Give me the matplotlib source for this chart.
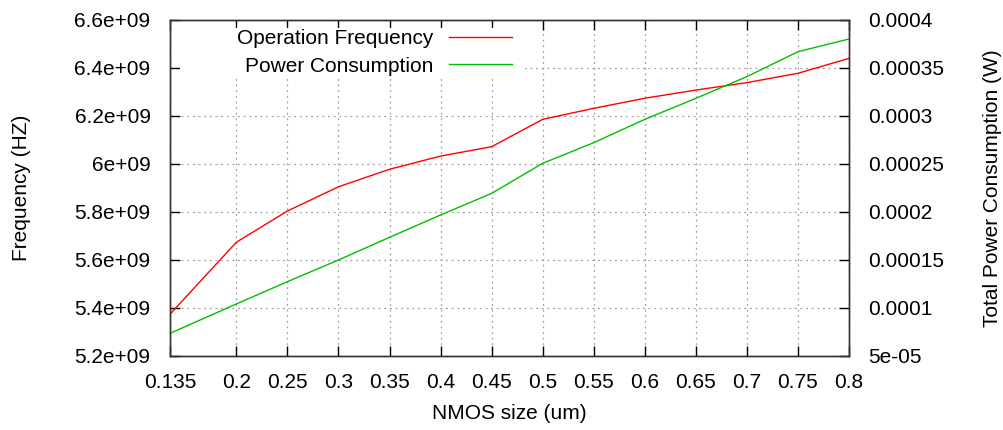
import numpy as np
import matplotlib.pyplot as plt
from matplotlib.patches import Rectangle

nmos_size = [0.135, 0.2, 0.25, 0.3, 0.35, 0.4, 0.45, 0.5, 0.55, 0.6, 0.65, 0.7, 0.75, 0.8]
freq = [5.374e9, 5.674e9, 5.804e9, 5.905e9, 5.978e9, 6.033e9, 6.072e9, 6.186e9,
        6.232e9, 6.274e9, 6.308e9, 6.339e9, 6.378e9, 6.440e9]
power = [7.36e-5, 1.042e-4, 1.274e-4, 1.50e-4, 1.736e-4, 1.969e-4, 2.194e-4, 2.507e-4,
         2.722e-4, 2.965e-4, 3.184e-4, 3.41e-4, 3.67e-4, 3.802e-4]

freq_ticks = [5.2e9, 5.4e9, 5.6e9, 5.8e9, 6.0e9, 6.2e9, 6.4e9, 6.6e9]
freq_labels = ['5.2e+09', '5.4e+09', '5.6e+09', '5.8e+09', '6e+09', '6.2e+09', '6.4e+09', '6.6e+09']
power_ticks = [5e-5, 1e-4, 1.5e-4, 2e-4, 2.5e-4, 3e-4, 3.5e-4, 4e-4]
power_labels = ['5e-05', '0.0001', '0.00015', '0.0002', '0.00025', '0.0003', '0.00035', '0.0004']
x_labels = ['0.135', '0.2', '0.25', '0.3', '0.35', '0.4', '0.45', '0.5', '0.55', '0.6',
            '0.65', '0.7', '0.75', '0.8']

plt.rcParams['font.family'] = ['Liberation Sans', 'DejaVu Sans']
plt.rcParams['font.size'] = 15

fig, ax = plt.subplots(figsize=(10.04, 4.3), dpi=100)
fig.subplots_adjust(left=0.1693, right=0.8456, top=0.9535, bottom=0.1721)
ax2 = ax.twinx()

l1, = ax.plot(nmos_size, freq, color='#ff0000', lw=1.0, label='Operation Frequency')
l2, = ax2.plot(nmos_size, power, color='#00c000', lw=1.0, label='Power Consumption')

ax.set_xlim(0.135, 0.8)
ax.set_ylim(5.2e9, 6.6e9)
ax2.set_ylim(5e-5, 4e-4)

ax.set_xticks(nmos_size)
ax.set_xticklabels(x_labels)
ax.set_yticks(freq_ticks)
ax.set_yticklabels(freq_labels)
ax2.set_yticks(power_ticks)
ax2.set_yticklabels(power_labels)

ax.grid(True, color='#a0a0a0', linestyle=(0, (1.5, 3)), lw=0.9)
ax.tick_params(axis='x', direction='in', length=7, width=1, top=True, pad=12)
ax.tick_params(axis='y', direction='in', length=7, width=1, pad=14)
ax2.tick_params(axis='y', direction='in', length=7, width=1, pad=14)
for a in (ax, ax2):
    for s in a.spines.values():
        s.set_linewidth(1.0)
        s.set_color('#333333')

ax.set_xlabel('NMOS size (um)', va='center')
ax.set_ylabel('Frequency (HZ)', va='center')
ax2.set_ylabel('Total Power Consumption (W)', va='center')
ax.xaxis.set_label_coords(0.5, -0.17)
ax.yaxis.set_label_coords(-0.218, 0.5)
ax2.yaxis.set_label_coords(1.212, 0.5)

# gnuplot key: white box over the grid, no border (top ticks stay visible)
ax2.add_patch(Rectangle((0.0147, 0.830), 0.5067, 0.146, transform=ax2.transAxes,
                        facecolor='white', edgecolor='none', zorder=0.5))
leg = ax2.legend([l1, l2], ['Operation Frequency', 'Power Consumption'],
                 loc='upper right', bbox_to_anchor=(0.5037, 0.972), markerfirst=False,
                 frameon=False, handlelength=3.0, handletextpad=0.77,
                 labelspacing=0.4, borderpad=0.0, borderaxespad=0.0)
for t in leg.get_texts():
    t.set_ha('right')

fig.savefig('out.png', dpi=100)
